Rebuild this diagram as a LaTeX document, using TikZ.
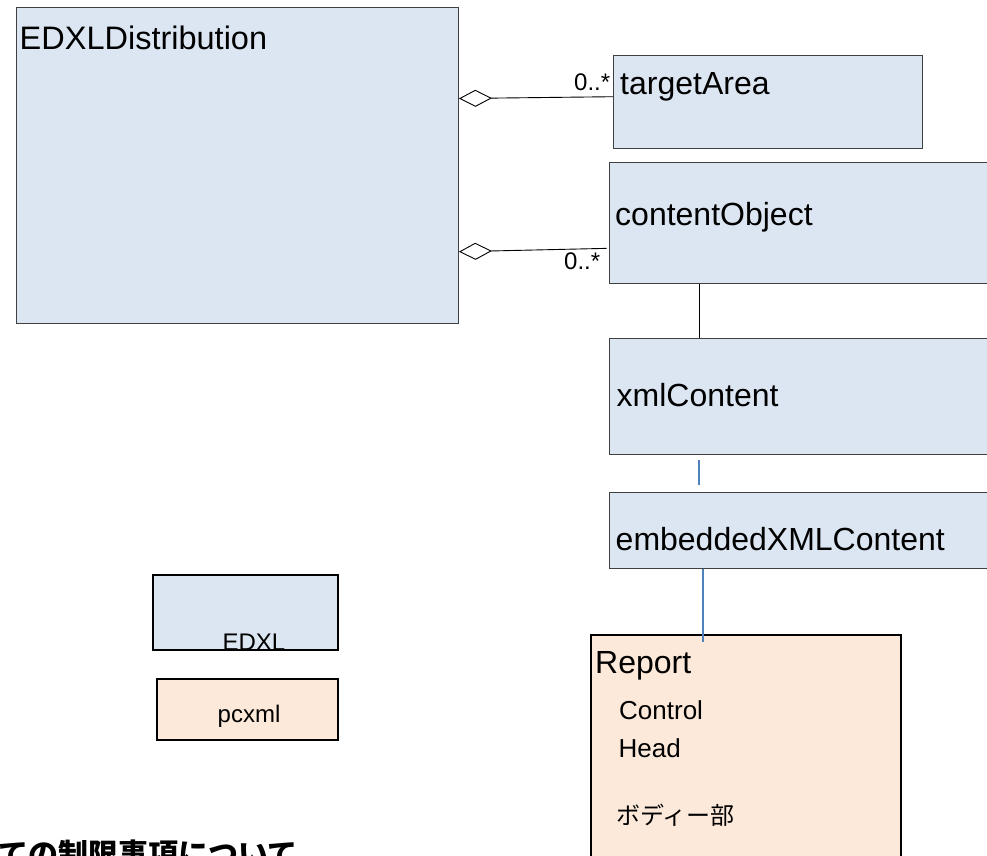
\documentclass[tikz,border=0pt]{standalone}
\usepackage{fontspec}
\setmainfont{Liberation Sans}
\newfontfamily\jpfont{Noto Sans CJK JP}
\usetikzlibrary{arrows.meta, positioning}

\definecolor{umlblue}{HTML}{DCE6F2}
\definecolor{umlpeach}{HTML}{FDE9D9}
\definecolor{linkblue}{HTML}{4F81BD}
\definecolor{edgegray}{HTML}{404040}

\begin{document}
\begin{tikzpicture}[
  x=1pt, y=-1pt, % 像素坐标:y 向下
  classbox/.style={draw=edgegray, fill=umlblue, line width=0.9pt, inner sep=0pt, anchor=north west},
  keybox/.style={draw=black, line width=2pt, inner sep=0pt, anchor=north west},
  biglbl/.style={font=\fontsize{32}{36}\selectfont, inner sep=0pt, anchor=base west},
  midlbl/.style={font=\fontsize{26}{30}\selectfont, inner sep=0pt, anchor=base west},
  smalllbl/.style={font=\fontsize{24}{28}\selectfont, inner sep=0pt},
  aggr/.style={{Diamond[open, length=33pt, width=17pt, line width=0.9pt]}-, line width=0.9pt},
  link/.style={draw=linkblue, line width=1.4pt}
]
  \clip (0,0) rectangle (987,855);

  \def\colx{699}   % 右列连线的 x
  \def\rx{609}     % 右列类框左边

  % 类框
  \node[classbox, minimum width=442pt, minimum height=316pt] (dist) at (16,7) {};
  \node[classbox, minimum width=309pt, minimum height=93pt] (target) at (613,55) {};
  \node[classbox, minimum width=400pt, minimum height=121pt] (content) at (\rx,162) {};
  \node[classbox, minimum width=400pt, minimum height=116pt] (xmlc) at (\rx,338) {};
  \node[classbox, minimum width=400pt, minimum height=76pt] (embed) at (\rx,492) {};
  \node[keybox, fill=umlpeach, minimum width=310pt, minimum height=260pt] (report) at (590,634) {};

  % 图例
  \node[keybox, fill=umlblue, minimum width=185pt, minimum height=75pt] (keyedxl) at (152,574) {};
  \node[keybox, fill=umlpeach, minimum width=181pt, minimum height=61pt] (keypcxml) at (156,678) {};

  % 类名
  \node[biglbl, font=\fontsize{32.5}{36}\selectfont] (distlbl) at (19.5,49) {EDXLDistribution};
  \node[biglbl] (targetlbl) at (620,94) {targetArea};
  \node[biglbl] (contentlbl) at (615,225) {contentObject};
  \node[biglbl] (xmlclbl) at (616.5,406) {xmlContent};
  \node[biglbl] (embedlbl) at (615.5,550.7) {embeddedXMLContent};
  \node[biglbl] (reportlbl) at (595,673.3) {Report};
  \node[midlbl] (ctrllbl) at (619,719.3) {Control};
  \node[midlbl] (headlbl) at (618.5,757.3) {Head};
  \node[midlbl, font=\fontsize{24}{28}\jpfont] (bodylbl) at (616,824) {ボディー部};
  \node[smalllbl, anchor=base] (keyedxllbl) at (254,650.5) {EDXL};
  \node[smalllbl, anchor=base] (keypcxmllbl) at (249,722.7) {pcxml};

  % 聚合关系
  \draw[aggr] (dist.north east |- 0,98.5) -- (target.west |- 0,96.7);
  \draw[aggr, shorten >=2.5pt] (dist.north east |- 0,251.7) -- (content.west |- 0,248.3);
  \node[smalllbl, anchor=base west] (multa) at (574,90) {0..*};
  \node[smalllbl, anchor=base west] (multb) at (564,269.5) {0..*};

  % 纵向连线
  \draw[line width=0.9pt] (content.south -| \colx,0) -- (xmlc.north -| \colx,0);
  \draw[link, shorten <=5pt, shorten >=7pt] (xmlc.south -| \colx,0) -- (embed.north -| \colx,0);
  \draw[link, shorten >=-8pt] (embed.south -| 703,0) -- (report.north -| 703,0);

  \node[font=\fontsize{30}{34}\jpfont\bfseries\selectfont, inner sep=0pt, anchor=base west] (note) at (-2,865) {ての制限事項について};
\end{tikzpicture}
\end{document}
